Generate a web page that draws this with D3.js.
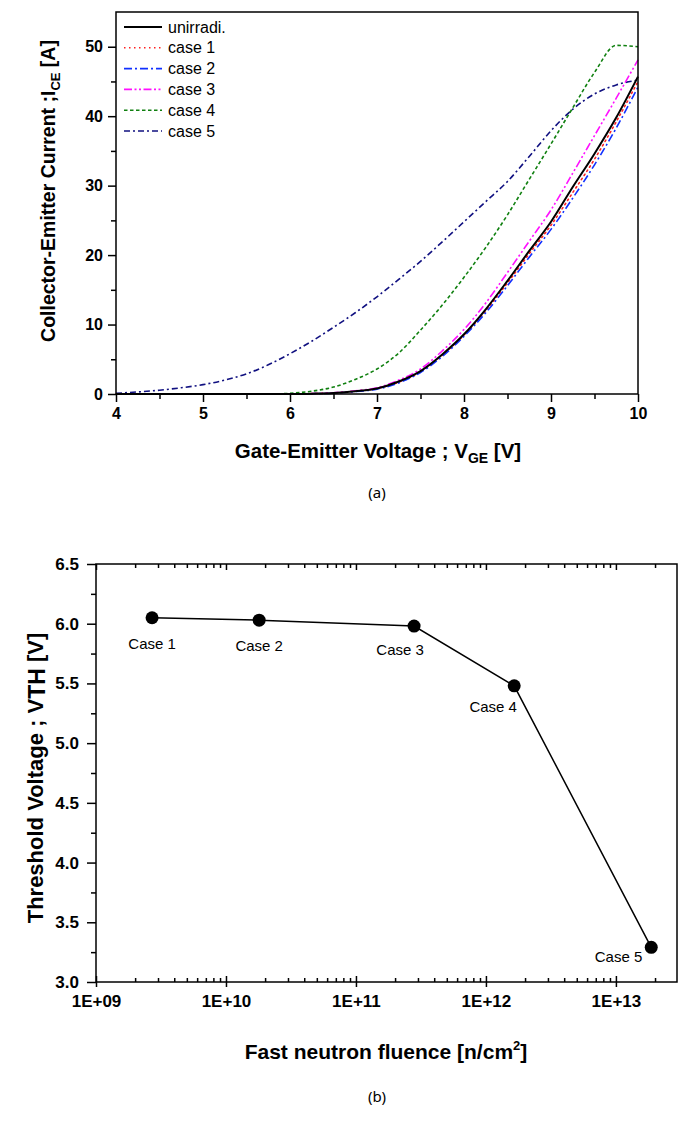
<!DOCTYPE html>
<html>
<head>
<meta charset="utf-8">
<script src="https://cdn.jsdelivr.net/npm/d3@7"></script>
<style>
  body { margin: 0; background: #fff; }
  svg { display: block; font-family: "Liberation Sans", Arial, sans-serif; }
  .tick text { font-weight: bold; }
</style>
</head>
<body>
<div id="container"></div>
<script>
// (a) transfer curves: I_CE vs V_GE
const vge = [4, 4.25, 4.5, 4.75, 5, 5.25, 5.5, 5.75, 6, 6.25, 6.5, 6.75, 7, 7.25, 7.5, 7.75, 8, 8.25, 8.5, 8.75, 9, 9.25, 9.5, 9.75, 10];
const unirradi = [0, 0, 0, 0, 0, 0, 0, 0, 0, 0.05, 0.15, 0.4, 0.8, 1.8, 3.3, 5.7, 8.6, 12.2, 16.3, 20.6, 24.8, 29.8, 34.6, 39.8, 45.7];
const case1 = [0, 0, 0, 0, 0, 0, 0, 0, 0, 0.05, 0.15, 0.4, 0.8, 1.7, 3.2, 5.6, 8.5, 12.0, 16.0, 20.2, 24.3, 29.0, 33.8, 39.2, 45.0];
const case2 = [0, 0, 0, 0, 0, 0, 0, 0, 0, 0.04, 0.12, 0.35, 0.7, 1.6, 3.1, 5.4, 8.3, 11.7, 15.6, 19.7, 23.7, 28.2, 33.0, 38.3, 44.2];
const case3 = [0, 0, 0, 0, 0, 0, 0, 0, 0, 0.05, 0.18, 0.45, 0.9, 2.0, 3.6, 6.2, 9.3, 13.1, 17.5, 22.0, 26.5, 31.8, 37.2, 42.6, 48.1];
const case4 = [0, 0, 0, 0, 0, 0, 0, 0, 0.1, 0.4, 1.0, 2.1, 3.6, 5.9, 9.2, 12.8, 16.8, 21.1, 25.8, 30.9, 36.0, 41.2, 46.3, 50.2, 50.0];
const case5 = [0.1, 0.3, 0.55, 0.9, 1.35, 2.0, 2.9, 4.2, 5.8, 7.6, 9.6, 11.7, 14.0, 16.5, 19.1, 21.9, 24.8, 27.7, 30.6, 34.2, 37.9, 41.0, 43.2, 44.5, 45.2];
const seriesNames = ['unirradi.', 'case 1', 'case 2', 'case 3', 'case 4', 'case 5'];
const xTicksA = [4, 5, 6, 7, 8, 9, 10];
const yTicksA = [0, 10, 20, 30, 40, 50];

// (b) threshold voltage vs fluence
const caseLabels = ['Case 1', 'Case 2', 'Case 3', 'Case 4', 'Case 5'];
const fluence = [2.7e9, 1.8e10, 2.8e11, 1.65e12, 1.87e13];
const vth = [6.05, 6.03, 5.98, 5.48, 3.29];
const xTicksB = [1e9, 1e10, 1e11, 1e12, 1e13];
const yTicksB = [3.0, 3.5, 4.0, 4.5, 5.0, 5.5, 6.0, 6.5];

const styles = [
  { color: '#000000', dash: null, width: 2 },
  { color: '#ff2020', dash: '1.5,3.5', width: 1.6 },
  { color: '#1030ff', dash: '8,3,2,3', width: 1.6 },
  { color: '#ff10ff', dash: '8,2.5,2,2.5,2,2.5', width: 1.6 },
  { color: '#108010', dash: '3.5,2.5', width: 1.6 },
  { color: '#101080', dash: '6,3,2,3', width: 1.6 }
];

const svg = d3.select('#container').append('svg')
  .attr('width', 688)
  .attr('height', 1134);

drawTop();
drawBottom();

function drawTop() {
  const left = 116, right = 638, top = 12, bottom = 394;
  const x = d3.scaleLinear().domain([4, 10]).range([left, right]);
  const y = d3.scaleLinear().domain([0, 55]).range([bottom, top]);
  const g = svg.append('g');

  const allSeries = [unirradi, case1, case2, case3, case4, case5];
  const line = d3.line()
    .x((d, i) => x(vge[i]))
    .y(d => y(d))
    .curve(d3.curveMonotoneX);

  // draw case 5 first, unirradi last so black sits on top
  [5, 4, 1, 2, 3, 0].forEach(k => {
    g.append('path')
      .datum(allSeries[k])
      .attr('d', line)
      .attr('fill', 'none')
      .attr('stroke', styles[k].color)
      .attr('stroke-width', styles[k].width)
      .attr('stroke-dasharray', styles[k].dash)
      .attr('stroke-linecap', k === 1 ? 'round' : 'butt');
  });

  // frame
  g.append('rect')
    .attr('x', left).attr('y', top)
    .attr('width', right - left).attr('height', bottom - top)
    .attr('fill', 'none').attr('stroke', '#000').attr('stroke-width', 1.5);

  const xAxis = g.append('g')
    .attr('transform', `translate(0,${bottom})`)
    .call(d3.axisBottom(x).tickValues(xTicksA).tickFormat(d3.format('d')).tickSize(8).tickPadding(6));
  xAxis.append('g').call(d3.axisBottom(x).tickValues(d3.range(4.5, 10, 1)).tickSize(5).tickFormat(''));

  const yAxis = g.append('g')
    .attr('transform', `translate(${left},0)`)
    .call(d3.axisLeft(y).tickValues(yTicksA).tickSize(8).tickPadding(5));
  yAxis.append('g').call(d3.axisLeft(y).tickValues(d3.range(5, 55, 10)).tickSize(5).tickFormat(''));

  [xAxis, yAxis].forEach(a => {
    a.selectAll('.domain').remove();
    a.selectAll('line').attr('stroke', '#000').attr('stroke-width', 1.5);
    a.selectAll('text').attr('font-size', 16).attr('fill', '#000')
      .attr('font-family', '"Liberation Sans", Arial, sans-serif');
  });

  // legend
  const leg = g.append('g');
  seriesNames.forEach((name, k) => {
    const ly = 27 + k * 20.8;
    leg.append('line')
      .attr('x1', 124).attr('x2', 162).attr('y1', ly).attr('y2', ly)
      .attr('stroke', styles[k].color)
      .attr('stroke-width', styles[k].width)
      .attr('stroke-dasharray', styles[k].dash);
    leg.append('text')
      .attr('x', 168).attr('y', ly + 5.5)
      .attr('font-size', 16)
      .text(name);
  });

  // axis titles
  const xt = g.append('text')
    .attr('x', 378).attr('y', 458)
    .attr('text-anchor', 'middle')
    .attr('font-size', 20.5).attr('font-weight', 'bold');
  xt.append('tspan').text('Gate-Emitter Voltage ; V');
  xt.append('tspan').attr('font-size', 14).attr('dy', 5).text('GE');
  xt.append('tspan').attr('dy', -5).text(' [V]');

  const yt = g.append('text')
    .attr('transform', 'translate(55,191) rotate(-90)')
    .attr('text-anchor', 'middle')
    .attr('font-size', 19.5).attr('font-weight', 'bold');
  yt.append('tspan').text('Collector-Emitter Current ;I');
  yt.append('tspan').attr('font-size', 13).attr('dy', 5).text('CE');
  yt.append('tspan').attr('dy', -5).text(' [A]');

  svg.append('text')
    .attr('x', 377).attr('y', 498)
    .attr('text-anchor', 'middle')
    .attr('font-family', '"Noto Sans", sans-serif')
    .attr('font-size', 15)
    .text('(a)');
}

function drawBottom() {
  const left = 96, right = 677, top = 564, bottom = 982;
  const x = d3.scaleLog().domain([1e9, Math.pow(10, 13.47)]).range([left, right]);
  const y = d3.scaleLinear().domain([3, 6.5]).range([bottom, top]);
  const g = svg.append('g');

  // minor log ticks (2..9 in each decade)
  const minor = [];
  for (let e = 9; e <= 13; e++) {
    for (let m = 2; m <= 9; m++) {
      const v = m * Math.pow(10, e);
      if (v < x.domain()[1]) minor.push(v);
    }
  }

  const fmtE = d => '1E+' + String(Math.round(Math.log10(d))).padStart(2, '0');

  const xAxis = g.append('g')
    .attr('transform', `translate(0,${bottom})`)
    .call(d3.axisBottom(x).tickValues(xTicksB).tickFormat(fmtE).tickSizeInner(-6).tickSizeOuter(0).tickPadding(13));
  xAxis.append('g').call(d3.axisBottom(x).tickValues(xTicksB).tickSize(5).tickFormat(''));
  xAxis.append('g').call(d3.axisBottom(x).tickValues(minor).tickSize(-4).tickFormat(''));

  const topAxis = g.append('g')
    .attr('transform', `translate(0,${top})`)
    .call(d3.axisTop(x).tickValues(xTicksB).tickSize(-6).tickFormat(''));
  topAxis.append('g').call(d3.axisTop(x).tickValues(minor).tickSize(-4).tickFormat(''));

  const yAxis = g.append('g')
    .attr('transform', `translate(${left},0)`)
    .call(d3.axisLeft(y).tickValues(yTicksB).tickFormat(d3.format('.1f')).tickSize(9).tickPadding(8));
  yAxis.append('g').call(d3.axisLeft(y).tickValues(d3.range(3.25, 6.5, 0.5)).tickSize(5).tickFormat(''));

  [xAxis, topAxis, yAxis].forEach(a => {
    a.selectAll('.domain').remove();
    a.selectAll('line').attr('stroke', '#000').attr('stroke-width', 1.5);
    a.selectAll('text').attr('fill', '#000')
      .attr('font-family', '"Liberation Sans", Arial, sans-serif');
  });
  xAxis.selectAll('text').attr('font-size', 17);
  yAxis.selectAll('text').attr('font-size', 17);

  g.append('rect')
    .attr('x', left).attr('y', top)
    .attr('width', right - left).attr('height', bottom - top)
    .attr('fill', 'none').attr('stroke', '#000').attr('stroke-width', 1.5);

  const pts = fluence.map((f, i) => ({ f: f, v: vth[i], label: caseLabels[i] }));

  g.append('path')
    .datum(pts)
    .attr('d', d3.line().x(d => x(d.f)).y(d => y(d.v)))
    .attr('fill', 'none')
    .attr('stroke', '#000')
    .attr('stroke-width', 1.5);

  g.selectAll('circle')
    .data(pts).enter()
    .append('circle')
    .attr('cx', d => x(d.f))
    .attr('cy', d => y(d.v))
    .attr('r', 6.5)
    .attr('fill', '#000');

  // label placement relative to each dot
  const labelPos = [
    { dx: 0, dy: 31, anchor: 'middle' },
    { dx: 0, dy: 31, anchor: 'middle' },
    { dx: -14, dy: 29, anchor: 'middle' },
    { dx: -21, dy: 26, anchor: 'middle' },
    { dx: -9, dy: 15, anchor: 'end' }
  ];
  g.selectAll('.case-label')
    .data(pts).enter()
    .append('text')
    .attr('class', 'case-label')
    .attr('x', (d, i) => x(d.f) + labelPos[i].dx)
    .attr('y', (d, i) => y(d.v) + labelPos[i].dy)
    .attr('text-anchor', (d, i) => labelPos[i].anchor)
    .attr('font-size', 15)
    .text(d => d.label);

  const xt = g.append('text')
    .attr('x', 386).attr('y', 1059)
    .attr('text-anchor', 'middle')
    .attr('font-size', 21).attr('font-weight', 'bold');
  xt.append('tspan').text('Fast neutron fluence [n/cm');
  xt.append('tspan').attr('font-size', 13).attr('dy', -9).text('2');
  xt.append('tspan').attr('dy', 9).text(']');

  const yt = g.append('text')
    .attr('transform', `translate(43,${(top + bottom) / 2 + 5}) rotate(-90)`)
    .attr('text-anchor', 'middle')
    .attr('font-size', 22).attr('font-weight', 'bold');
  yt.append('tspan').text('Threshold Voltage ; V');
  yt.append('tspan').attr('font-size', 23).attr('dy', 2).text('TH');
  yt.append('tspan').attr('dy', -2).text(' [V]');

  svg.append('text')
    .attr('x', 377).attr('y', 1102)
    .attr('text-anchor', 'middle')
    .attr('font-family', '"Noto Sans", sans-serif')
    .attr('font-size', 15)
    .text('(b)');
}
</script>
</body>
</html>
